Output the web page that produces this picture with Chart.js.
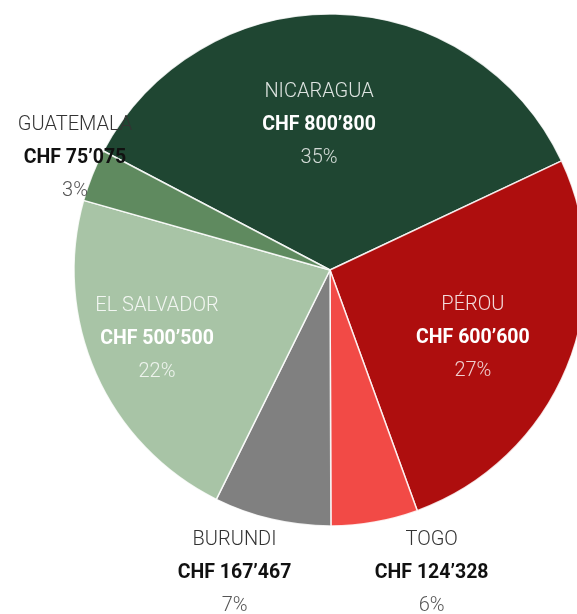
<!DOCTYPE html>
<html>
<head>
<meta charset="utf-8">
<script src="https://cdn.jsdelivr.net/npm/chart.js@4"></script>
<style>
  html, body { margin: 0; padding: 0; background: #fff; overflow: hidden; }
  #wrap { position: relative; width: 660px; height: 614px; }
</style>
</head>
<body>
<div id="wrap"><canvas id="pie"></canvas></div>
<script>
const countries = ['NICARAGUA', 'PÉROU', 'TOGO', 'BURUNDI', 'EL SALVADOR', 'GUATEMALA'];
const amounts = [800800, 600600, 124328, 167467, 500500, 75075];
const amountLabels = ['CHF 800’800', 'CHF 600’600', 'CHF 124’328', 'CHF 167’467', 'CHF 500’500', 'CHF 75’075'];
const percentLabels = ['35%', '27%', '6%', '7%', '22%', '3%'];
const colors = ['#1f4632', '#ae0e0e', '#f24a46', '#808080', '#a8c4a6', '#5f8a5f'];

// label placement: radius factor, angle tweak (deg), inside slice or not
const labelPos = [
    {f: 0.576, da: -5.5, inside: true},
    {f: 0.615, da: 2.4, inside: true},
    {f: 1.241, da: -8.6, inside: false},
    {f: 1.234, da: 4.5, inside: false},
    {f: 0.725, da: 2.7, inside: true},
    {f: 1.091, da: 2.35, inside: false}
];

const sliceLabels = {
    id: 'sliceLabels',
    afterDatasetsDraw(chart) {
        const ctx = chart.ctx;
        const arcs = chart.getDatasetMeta(0).data;
        ctx.save();
        ctx.textAlign = 'center';
        ctx.textBaseline = 'alphabetic';
        arcs.forEach((arc, i) => {
            const p = labelPos[i];
            const mid = (arc.startAngle + arc.endAngle) / 2 + p.da * Math.PI / 180;
            const r = arc.outerRadius * p.f;
            const x = arc.x + Math.cos(mid) * r;
            const y = arc.y + Math.sin(mid) * r;
            ctx.font = '300 20px Roboto';
            ctx.fillStyle = p.inside ? 'rgba(255,255,255,0.85)' : '#333333';
            ctx.fillText(countries[i], x, y - 26);
            ctx.font = 'bold 19.5px Roboto';
            ctx.fillStyle = p.inside ? '#ffffff' : '#111111';
            ctx.fillText(amountLabels[i], x, y + 7);
            ctx.font = '300 20px Roboto';
            ctx.fillStyle = p.inside ? 'rgba(255,255,255,0.8)' : '#555555';
            ctx.fillText(percentLabels[i], x, y + 40);
        });
        ctx.restore();
    }
};

new Chart(document.getElementById('pie'), {
    type: 'pie',
    data: {
        labels: countries,
        datasets: [{
            data: amounts,
            backgroundColor: colors,
            borderColor: 'rgba(255,255,255,0.85)',
            borderWidth: 1.5,
            hoverOffset: 0
        }]
    },
    options: {
        responsive: true,
        maintainAspectRatio: false,
        animation: false,
        rotation: -62.3,
        radius: 256,
        layout: {padding: {top: 14, bottom: 88, left: 74, right: 74}},
        plugins: {legend: {display: false}, tooltip: {enabled: false}}
    },
    plugins: [sliceLabels]
});
</script>
</body>
</html>
